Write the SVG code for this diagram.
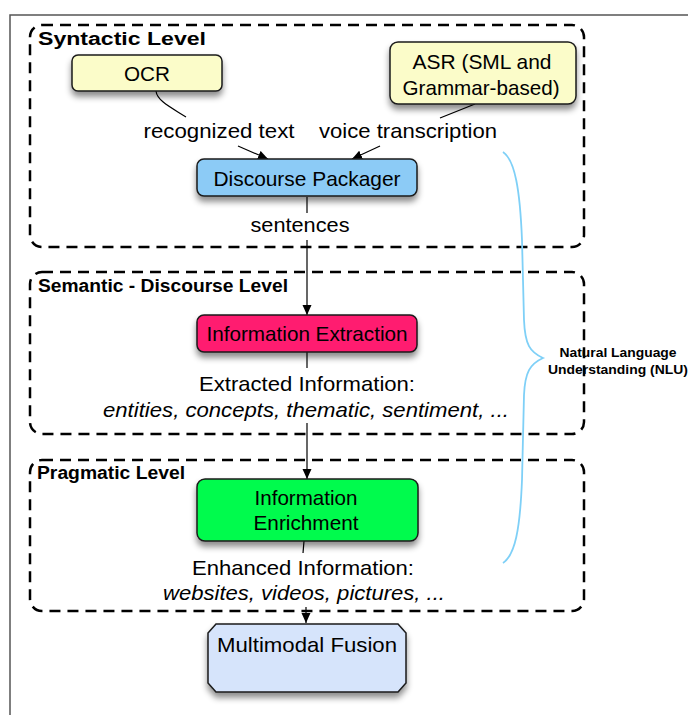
<svg xmlns="http://www.w3.org/2000/svg" width="688" height="715" viewBox="0 0 688 715">
<style>
  text { font-family: "Liberation Sans", Arial, sans-serif; fill: #000; }
  .lvl { fill: none; stroke: #000; stroke-width: 2.5; stroke-dasharray: 11 7; }
  .lvlt { font-size: 18px; font-weight: bold; }
  .node { stroke: #1a1a1a; stroke-width: 1.5; filter: url(#sh); }
  .nt { font-size: 21px; text-anchor: middle; }
  .lab { font-size: 21px; text-anchor: middle; }
  .it { font-style: italic; }
  .con { fill: none; stroke: #000; stroke-width: 1.2; }
  .arr { marker-end: url(#ah); }
</style>
<defs>
  <filter id="sh" x="-20%" y="-30%" width="140%" height="180%">
    <feDropShadow dx="0" dy="5" stdDeviation="3" flood-color="#000" flood-opacity="0.45"/>
  </filter>
  <marker id="ah" viewBox="0 0 10 10" refX="10" refY="5" markerWidth="10" markerHeight="10" markerUnits="userSpaceOnUse" orient="auto">
    <path d="M0,0.5 L10,5 L0,9.5 z" fill="#000"/>
  </marker>
</defs>
<rect width="688" height="715" fill="#fff"/>
<g id="frame">
  <path d="M10,715 L10,15 L688,15" fill="none" stroke="#555" stroke-width="1.5"/>
</g>
<g id="levels">
  <g id="syntactic-level">
    <rect class="lvl" x="30" y="25" width="554" height="222" rx="12"/>
    <text class="lvlt" x="38" y="45" textLength="168" lengthAdjust="spacingAndGlyphs">Syntactic Level</text>
  </g>
  <g id="semantic-level">
    <rect class="lvl" x="30" y="272" width="554" height="162" rx="12"/>
    <text class="lvlt" x="38" y="292" textLength="250" lengthAdjust="spacingAndGlyphs">Semantic - Discourse Level</text>
  </g>
  <g id="pragmatic-level">
    <rect class="lvl" x="30" y="460" width="554" height="151" rx="12"/>
    <text class="lvlt" x="37" y="479" textLength="148" lengthAdjust="spacingAndGlyphs">Pragmatic Level</text>
  </g>
</g>
<g id="connectors">
  <path class="con" d="M156,91 C157,101 172,108 186,117"/>
  <path class="con arr" d="M238,146 L268,159"/>
  <path class="con" d="M475,104 L440,118"/>
  <path class="con arr" d="M380,146 L352,159"/>
  <path class="con" d="M307,197 L307,213"/>
  <path class="con arr" d="M307,240 L307,315"/>
  <path class="con" d="M307,352 L307,368"/>
  <path class="con arr" d="M307,423 L307,479"/>
  <path class="con" d="M304,541 L303,553"/>
  <path class="con arr" d="M306,607 L306,623"/>
  <text class="lab" x="219" y="138" textLength="151" lengthAdjust="spacingAndGlyphs">recognized text</text>
  <text class="lab" x="408" y="138" textLength="178" lengthAdjust="spacingAndGlyphs">voice transcription</text>
  <text class="lab" x="300" y="232" textLength="99" lengthAdjust="spacingAndGlyphs">sentences</text>
  <text class="lab" x="307" y="391" textLength="216" lengthAdjust="spacingAndGlyphs">Extracted Information:</text>
  <text class="lab it" x="306" y="417" textLength="406" lengthAdjust="spacingAndGlyphs">entities, concepts, thematic, sentiment, ...</text>
  <text class="lab" x="303" y="575" textLength="222" lengthAdjust="spacingAndGlyphs">Enhanced Information:</text>
  <text class="lab it" x="304" y="600" textLength="282" lengthAdjust="spacingAndGlyphs">websites, videos, pictures, ...</text>
</g>
<g id="nlu-brace">
  <path d="M503,152 C515,160 520,190 522,240 L524,320 C525,345 530,352 543,358 C530,364 525,372 524,395 L522,480 C520,530 515,555 503,563" fill="none" stroke="#7fd0f7" stroke-width="1.8"/>
  <text x="618" y="357" font-size="13" font-weight="bold" text-anchor="middle" textLength="117" lengthAdjust="spacingAndGlyphs">Natural Language</text>
  <text x="618" y="374" font-size="13" font-weight="bold" text-anchor="middle" textLength="140" lengthAdjust="spacingAndGlyphs">Understanding (NLU)</text>
</g>
<g id="ocr">
  <rect class="node" x="72" y="55" width="150" height="36" rx="6" fill="#fbfcc9"/>
  <text class="nt" x="147" y="81" textLength="46" lengthAdjust="spacingAndGlyphs">OCR</text>
</g>
<g id="asr">
  <rect class="node" x="390" y="42" width="186" height="62" rx="8" fill="#fbfcc9"/>
  <text class="nt" x="482" y="69" textLength="139" lengthAdjust="spacingAndGlyphs">ASR (SML and</text>
  <text class="nt" x="481" y="95" textLength="157" lengthAdjust="spacingAndGlyphs">Grammar-based)</text>
</g>
<g id="discourse-packager">
  <rect class="node" x="197" y="159" width="220" height="37" rx="7" fill="#8ccbf6"/>
  <text class="nt" x="307" y="186" textLength="187" lengthAdjust="spacingAndGlyphs">Discourse Packager</text>
</g>
<g id="information-extraction">
  <rect class="node" x="197" y="315" width="220" height="37" rx="7" fill="#ff1a6f"/>
  <text class="nt" x="307" y="341" textLength="201" lengthAdjust="spacingAndGlyphs">Information Extraction</text>
</g>
<g id="information-enrichment">
  <rect class="node" x="197" y="479" width="221" height="62" rx="8" fill="#02fb4e"/>
  <text class="nt" x="306" y="505" textLength="103" lengthAdjust="spacingAndGlyphs">Information</text>
  <text class="nt" x="306" y="530" textLength="105" lengthAdjust="spacingAndGlyphs">Enrichment</text>
</g>
<g id="multimodal-fusion">
  <polygon class="node" points="216,624 398,624 406,633 406,683 398,692 216,692 208,683 208,633" fill="#d6e4fb"/>
  <text class="nt" x="307" y="652" textLength="180" lengthAdjust="spacingAndGlyphs">Multimodal Fusion</text>
</g>
</svg>
